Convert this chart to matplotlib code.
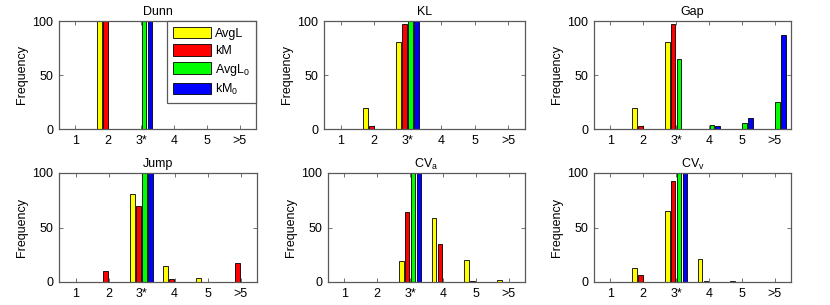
import numpy as np
import matplotlib
matplotlib.use('Agg')
import matplotlib.pyplot as plt

plt.rcParams['font.family'] = ['Liberation Sans', 'DejaVu Sans']
plt.rcParams['mathtext.fontset'] = 'custom'
plt.rcParams['mathtext.rm'] = 'Liberation Sans'

categories = ['1', '2', '3*', '4', '5', '>5']
series = ['AvgL', 'kM', r'AvgL$_\mathregular{0}$', r'kM$_\mathregular{0}$']
colors = ['#ffff00', '#ff0000', '#00ff00', '#0000ff']
titles = ['Dunn', 'KL', 'Gap', 'Jump', r'CV$_\mathregular{a}$', r'CV$_\mathregular{v}$']

# rows: AvgL, kM, AvgL_0, kM_0
dunn = [[0, 100, 0, 0, 0, 0],
        [0, 100, 0, 0, 0, 0],
        [0, 0, 100, 0, 0, 0],
        [0, 0, 100, 0, 0, 0]]
kl = [[0, 19, 81, 0, 0, 0],
      [0, 3, 97, 0, 0, 0],
      [0, 0, 100, 0, 0, 0],
      [0, 0, 100, 0, 0, 0]]
gap = [[0, 19, 81, 0, 0, 0],
       [0, 3, 97, 0, 0, 0],
       [0, 0, 65, 4, 6, 25],
       [0, 0, 0, 3, 10, 87]]
jump = [[0, 0, 81, 15, 4, 0],
        [0, 10, 70, 3, 0, 17],
        [0, 0, 100, 0, 0, 0],
        [0, 0, 100, 0, 0, 0]]
cva = [[0, 0, 19, 59, 20, 2],
       [0, 0, 64, 35, 1, 0],
       [0, 0, 100, 0, 0, 0],
       [0, 0, 100, 0, 0, 0]]
cvv = [[0, 13, 65, 21, 1, 0],
       [0, 6, 93, 1, 0, 0],
       [0, 0, 100, 0, 0, 0],
       [0, 0, 100, 0, 0, 0]]
panels = [dunn, kl, gap, jump, cva, cvv]

# axes boxes in pixels (left, top, right, bottom) on a 830x305 canvas
boxes = [(59, 21, 256, 129), (324, 21, 525, 129), (594, 21, 791, 129),
         (59, 173, 257, 282), (328, 173, 525, 282), (594, 173, 791, 282)]

W, H = 830, 305
fig = plt.figure(figsize=(W / 100, H / 100), dpi=100)

x = np.arange(1, len(categories) + 1)
step = 0.182
width = 0.145
fs = 9

for i, data in enumerate(panels):
    l, t, r, b = boxes[i]
    ax = fig.add_axes([l / W, (H - b) / H, (r - l) / W, (b - t) / H])
    for k in range(4):
        ax.bar(x + (k - 1.5) * step, data[k], width, color=colors[k],
               edgecolor='black', linewidth=0.6, label=series[k], zorder=2)
    ax.set_xlim(0.5, 6.5)
    ax.set_ylim(0, 100)
    ax.set_xticks(x)
    ax.set_xticklabels(categories)
    ax.set_yticks([0, 50, 100])
    ax.tick_params(direction='in', top=True, right=True, length=3,
                   width=0.6, color='0.35', labelsize=fs, pad=4)
    for s in ax.spines.values():
        s.set_color('0.35')
        s.set_linewidth(0.9)
    ax.set_title(titles[i], fontsize=fs, pad=4)
    ax.set_ylabel('Frequency', fontsize=fs, labelpad=3)
    if i == 0:
        leg = ax.legend(loc='upper right', fontsize=fs, handlelength=3.1,
                        handleheight=1.05, labelspacing=0.35, borderaxespad=0,
                        fancybox=False, framealpha=1, borderpad=0.45,
                        handletextpad=0.3)
        leg.get_frame().set_edgecolor('0.35')
        leg.get_frame().set_linewidth(0.9)

fig.savefig('out.png', dpi=100)
